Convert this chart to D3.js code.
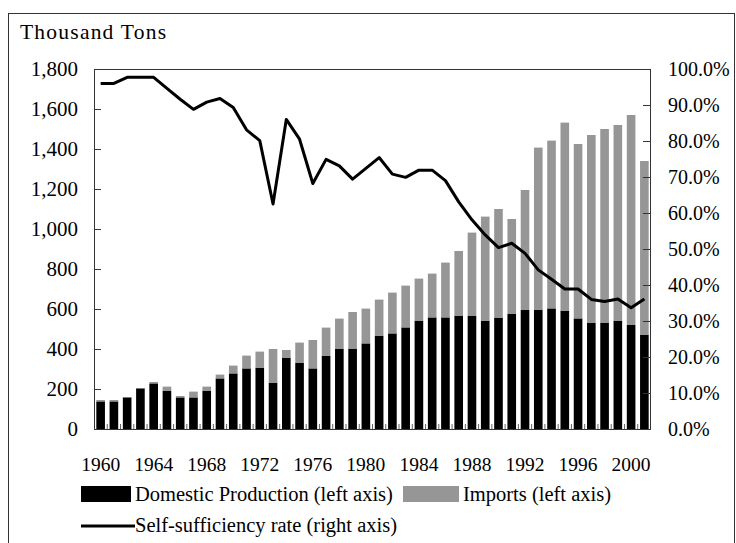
<!DOCTYPE html>
<html><head><meta charset="utf-8">
<script src="https://cdn.jsdelivr.net/npm/d3@7"></script>
<style>
html,body{margin:0;padding:0;background:#fff;}
svg{display:block;font-family:"Liberation Serif","Times New Roman",serif;}
</style></head>
<body><svg id="chart" width="736" height="543"></svg>
<script>
const years = d3.range(1960, 2002);
const domestic = [138,138,158,203,228,192,158,158,192,253,278,303,307,232,357,332,303,365,402,402,428,467,478,508,542,558,558,567,567,542,557,575,595,595,603,592,553,532,532,542,520,470];
const imports = [7,7,2,2,7,20,7,29,20,19,39,64,80,168,38,100,142,142,150,183,174,180,204,209,210,219,274,323,415,520,543,475,600,812,839,940,872,938,968,978,1050,870];
const selfRate = [96.0,96.0,97.7,97.7,97.7,94.6,91.6,88.8,90.8,91.8,89.3,83.1,80.1,62.5,86.0,80.5,68.2,74.9,73.1,69.4,72.4,75.4,70.8,69.9,71.9,71.9,69.0,63.1,58.1,53.9,50.4,51.6,48.8,44.2,41.6,38.9,38.9,36.0,35.4,36.1,33.7,36.1];
const leftTicks = [0,200,400,600,800,1000,1200,1400,1600,1800];
const rightTicks = [0,0.1,0.2,0.3,0.4,0.5,0.6,0.7,0.8,0.9,1.0];
const xLabelYears = [1960,1964,1968,1972,1976,1980,1984,1988,1992,1996,2000];
const legendItems = ["Domestic Production (left axis)","Imports (left axis)","Self-sufficiency rate (right axis)"];
const yTitle = "Thousand Tons";

const svg = d3.select("#chart");
const L = 94, R = 651, T = 69, B = 429;

// outer frame
svg.append("rect").attr("x",8.5).attr("y",13.5).attr("width",726).attr("height",540)
  .attr("fill","none").attr("stroke","#333").attr("stroke-width",1);

const x = d3.scaleBand().domain(years).range([L,R]).paddingInner(0.35).paddingOuter(0.175);
const y = d3.scaleLinear().domain([0,1800]).range([B,T]);
const y2 = d3.scaleLinear().domain([0,1]).range([B,T]);

// bars
const g = svg.append("g");
g.selectAll("rect.dom").data(years).join("rect").attr("class","dom")
  .attr("x",(d)=>x(d)).attr("width",x.bandwidth())
  .attr("y",(d,i)=>y(domestic[i])).attr("height",(d,i)=>B-y(domestic[i]))
  .attr("fill","#000");
g.selectAll("rect.imp").data(years).join("rect").attr("class","imp")
  .attr("x",(d)=>x(d)).attr("width",x.bandwidth())
  .attr("y",(d,i)=>y(domestic[i]+imports[i])).attr("height",(d,i)=>y(domestic[i])-y(domestic[i]+imports[i]))
  .attr("fill","#969696");

// plot frame
svg.append("rect").attr("x",L+0.5).attr("y",T+0.5).attr("width",R-L-1).attr("height",B-T)
  .attr("fill","none").attr("stroke","#333").attr("stroke-width",1);

// left axis
const axL = svg.append("g").attr("transform",`translate(${L},0)`)
  .call(d3.axisRight(y).tickValues(leftTicks).tickSize(7).tickFormat(""));
axL.select(".domain").remove();
axL.selectAll("line").attr("stroke","#333");
svg.append("g").selectAll("text").data(leftTicks).join("text")
  .attr("x",78).attr("y",d=>y(d)).attr("dy","0.35em").attr("text-anchor","end")
  .attr("font-size",21).attr("fill","#000").text(d3.format(","));

// right axis
const axR = svg.append("g").attr("transform",`translate(${R},0)`)
  .call(d3.axisLeft(y2).tickValues(rightTicks).tickSize(8).tickFormat(""));
axR.select(".domain").remove();
axR.selectAll("line").attr("stroke","#333");
svg.append("g").selectAll("text").data(rightTicks).join("text")
  .attr("x",668).attr("y",d=>y2(d)).attr("dy","0.35em").attr("text-anchor","start")
  .attr("font-size",20).attr("fill","#000").text(d3.format(".1%"));

// x axis minor ticks at band boundaries
const bounds = years.map(d=>x(d)-x.step()*x.paddingInner()/2);
svg.append("g").selectAll("line").data(bounds.slice(1)).join("line")
  .attr("x1",d=>d).attr("x2",d=>d).attr("y1",B).attr("y2",B-5)
  .attr("stroke","#666").attr("stroke-width",1);
svg.append("line").attr("x1",L).attr("x2",R).attr("y1",B+0.5).attr("y2",B+0.5).attr("stroke","#333");

// x labels
svg.append("g").selectAll("text").data(xLabelYears).join("text")
  .attr("x",d=>x(d)+x.bandwidth()/2).attr("y",471).attr("text-anchor","middle")
  .attr("font-size",19.5).attr("fill","#000").text(d=>d);

// line
const line = d3.line().x((d,i)=>x(years[i])+x.bandwidth()/2).y(d=>y2(d/100));
svg.append("path").datum(selfRate).attr("d",line).attr("fill","none")
  .attr("stroke","#000").attr("stroke-width",3).attr("stroke-linejoin","round");

// title
svg.append("text").attr("x",20).attr("y",39).attr("font-size",21.5).attr("fill","#000")
  .attr("textLength",146).attr("lengthAdjust","spacing").text(yTitle);

// legend
svg.append("rect").attr("x",81).attr("y",486).attr("width",50).attr("height",16).attr("fill","#000");
svg.append("text").attr("x",135).attr("y",501).attr("font-size",20.5).text(legendItems[0]);
svg.append("rect").attr("x",403).attr("y",486).attr("width",56).attr("height",16).attr("fill","#969696");
svg.append("text").attr("x",463).attr("y",501).attr("font-size",20.5).text(legendItems[1]);
svg.append("line").attr("x1",81).attr("x2",135).attr("y1",526).attr("y2",526).attr("stroke","#000").attr("stroke-width",3);
svg.append("text").attr("x",135).attr("y",532).attr("font-size",20.5).text(legendItems[2]);
</script></body></html>
